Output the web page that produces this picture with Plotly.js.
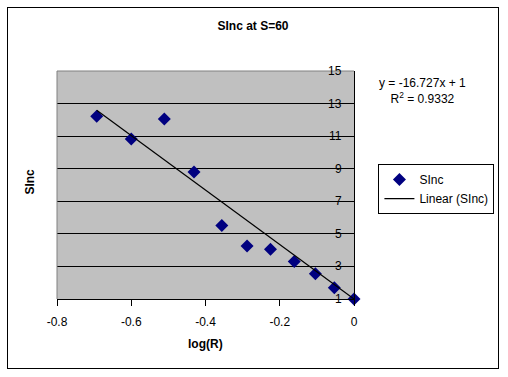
<!DOCTYPE html>
<html>
<head>
<meta charset="utf-8">
<script src="https://cdn.plot.ly/plotly-3.0.1.min.js"></script>
<style>
html,body{margin:0;padding:0;background:#fff;}
#wrap{position:relative;width:508px;height:377px;}
#chart{width:508px;height:377px;}
#frame{position:absolute;left:7px;top:7px;width:490px;height:360px;border:1.5px solid #000;pointer-events:none;}
</style>
</head>
<body>
<div id="wrap"><div id="chart"></div><div id="frame"></div></div>
<script>
// Data
const logR = [-0.693, -0.600, -0.511, -0.431, -0.356, -0.288, -0.225, -0.161, -0.104, -0.053, 0];
const sInc = [12.22, 10.82, 12.06, 8.80, 5.51, 4.26, 4.06, 3.30, 2.55, 1.69, 1.0];
const trendSlope = -16.727;
const trendIntercept = 1;
const trendR2 = 0.9332;
const xTickVals = [-0.8, -0.6, -0.4, -0.2, 0];
const xTickText = ['-0.8', '-0.6', '-0.4', '-0.2', '0'];
const yTickVals = [1, 3, 5, 7, 9, 11, 13, 15];

const xmin = Math.min(...logR), xmax = Math.max(...logR);
const trendX = [xmin, xmax];
const trendY = trendX.map(v => trendSlope * v + trendIntercept);

const FONT = '"Liberation Sans", Arial, sans-serif';

const traces = [
  {
    x: logR, y: sInc, type: 'scatter', mode: 'markers', name: 'SInc',
    marker: {symbol: 'diamond', size: 10, color: '#000080'},
    cliponaxis: false
  },
  {
    x: trendX, y: trendY, type: 'scatter', mode: 'lines', name: 'Linear (SInc)',
    line: {color: '#000', width: 1.2}, cliponaxis: false
  }
];

const L = 56.5, R = 354.5, T = 70.7, B = 299.3;
const W = 508, H = 377;
const pw = R - L, ph = B - T;
const px = v => (v - L) / pw;
const py = v => (B - v) / ph;

// y tick labels drawn left of the right-hand axis (Excel style)
const yLabelAnns = yTickVals.map(v => ({
  text: String(v), xref: 'paper', yref: 'y', x: px(344), y: v,
  xanchor: 'right', yanchor: 'middle', showarrow: false,
  font: {family: FONT, size: 12, color: '#000'}
}));

const layout = {
  width: W, height: H,
  margin: {l: L, r: W - R, t: T, b: H - B, pad: 0},
  paper_bgcolor: '#fff',
  plot_bgcolor: '#c0c0c0',
  font: {family: FONT, size: 12, color: '#000'},
  showlegend: true,
  title: {
    text: '<b>SInc at S=60</b>', font: {family: FONT, size: 12, color: '#000'},
    xref: 'container', yref: 'container', x: 253 / W, y: 1 - 26 / H,
    xanchor: 'center', yanchor: 'middle'
  },
  xaxis: {
    range: [-0.8, 0], tickvals: xTickVals, ticktext: xTickText,
    showgrid: false, zeroline: false, showline: true, linecolor: '#000', linewidth: 1,
    ticks: 'outside', ticklen: 6, tickcolor: '#000', tickwidth: 1, ticklabelstandoff: 6,
    tickfont: {family: FONT, size: 12, color: '#000'}, fixedrange: true
  },
  yaxis: {
    range: [1, 15], tickvals: yTickVals, side: 'right',
    showticklabels: false,
    showgrid: true, gridcolor: '#000', gridwidth: 1,
    zeroline: false, showline: true, linecolor: '#000', linewidth: 1,
    ticks: 'inside', ticklen: 7, tickcolor: '#000', tickwidth: 1,
    fixedrange: true
  },
  legend: {
    x: px(379), y: py(164), xanchor: 'left', yanchor: 'top',
    xref: 'paper', yref: 'paper',
    bordercolor: '#000', borderwidth: 1, bgcolor: '#fff',
    font: {family: FONT, size: 12, color: '#000'},
    tracegroupgap: 2, itemwidth: 30
  },
  shapes: [
    {type: 'line', xref: 'paper', yref: 'paper', x0: 0, x1: 0, y0: 0, y1: 1, line: {color: '#808080', width: 1}, layer: 'above'},
    {type: 'line', xref: 'paper', yref: 'paper', x0: 0, x1: 1, y0: 1, y1: 1, line: {color: '#808080', width: 1}, layer: 'above'}
  ],
  annotations: yLabelAnns.concat([
    {
      text: '<b>SInc</b>', textangle: -90, xref: 'paper', yref: 'paper',
      x: px(29), y: py(182), xanchor: 'center', yanchor: 'middle', showarrow: false,
      font: {family: FONT, size: 12, color: '#000'}
    },
    {
      text: '<b>log(R)</b>', xref: 'paper', yref: 'paper',
      x: px(205), y: py(344), xanchor: 'center', yanchor: 'middle', showarrow: false,
      font: {family: FONT, size: 12, color: '#000'}
    },
    {
      text: 'y = ' + trendSlope + 'x + ' + trendIntercept + '<br>R<sup>2</sup> = ' + trendR2,
      xref: 'paper', yref: 'paper', x: px(423), y: py(91), xanchor: 'center', yanchor: 'middle',
      showarrow: false, align: 'center', font: {family: FONT, size: 12, color: '#000'}
    }
  ])
};

Plotly.newPlot('chart', traces, layout, {displayModeBar: false, staticPlot: true});
</script>
</body>
</html>
